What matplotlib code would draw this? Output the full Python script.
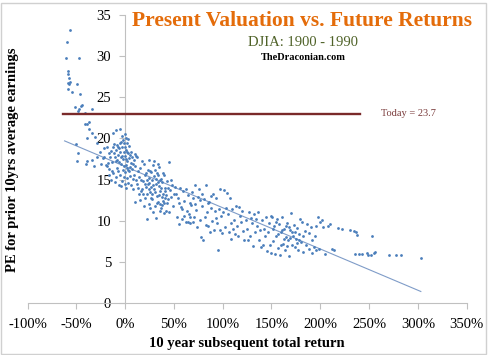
import numpy as np
import matplotlib
matplotlib.use("Agg")
import matplotlib.pyplot as plt
from matplotlib.patches import Rectangle

# (10yr return in %, PE), grouped by area of the cloud
pts_top = [(-56, 33.2), (-60, 31.7), (-61, 29.8), (-47, 29.8), (-59, 28.2), (-58, 27.8),
           (-57, 27.4), (-56, 26.9), (-57, 26.6), (-59, 26.7), (-49, 26.6), (-58, 26.0),
           (-54, 25.7), (-46, 25.4), (-51, 23.8), (-47, 23.6), (-45, 23.9), (-44, 24.1),
           (-34, 23.6), (-48, 23.3), (-41, 23.1)]
pts_left = [(-39, 21.8), (-37, 22.0), (-41, 21.8), (-37, 21.2), (-34, 20.7), (-39, 20.0),
            (-31, 20.2), (-9, 21.0), (-5, 21.1), (-12, 20.6), (-50, 19.3), (-29, 19.4),
            (-48, 18.2), (-49, 17.3), (-39, 17.3), (-34, 17.4), (-40, 16.9), (-26, 18.4),
            (-22, 18.8), (-19, 19.0), (-29, 17.8), (-22, 17.8), (-32, 16.6), (-19, 16.6)]
pts_zero = [(-14, 18.5), (-12, 18.9), (-11, 18.2), (-10, 17.8), (-9, 18.6), (-8, 19.2),
            (-8, 17.4), (-7, 18.0), (-6, 18.8), (-6, 17.1), (-5, 19.5), (-5, 18.3),
            (-4, 17.7), (-4, 16.9), (-3, 18.9), (-3, 20.3), (-2, 19.8), (-2, 17.5),
            (-1, 18.4), (-1, 16.6), (0, 19.0), (0, 17.9), (1, 18.6), (1, 20.0), (1, 16.8),
            (2, 19.4), (2, 17.3), (3, 18.2), (3, 16.2), (4, 17.6), (4, 19.1), (5, 18.0),
            (5, 16.5), (-13, 17.1), (-15, 17.8), (-17, 18.2), (-18, 17.0), (-16, 16.3),
            (-20, 16.8), (-23, 17.6), (-25, 16.9),
            (-16, 15.5), (-14, 15.0), (-12, 15.8), (-10, 14.7), (-9, 15.3), (-7, 16.0),
            (-6, 14.4), (-5, 15.6), (-3, 14.8), (-2, 16.2), (0, 14.5), (0, 15.9), (2, 15.2),
            (3, 14.6), (4, 16.0), (5, 15.4), (6, 17.0), (7, 16.3), (8, 15.1), (9, 17.4),
            (10, 16.6), (11, 14.9), (12, 17.8), (13, 16.0), (14, 15.3)]
pts_zero_extra = [(-11, 19.3), (-9, 17.2), (-7, 18.9), (-4, 19.6), (-3, 17.9), (-1, 19.4),
                  (0, 20.5), (1, 17.5), (2, 18.4), (3, 19.9), (6, 18.3), (7, 17.7),
                  (-8, 16.4), (-1, 15.3), (2, 16.4), (8, 16.9), (10, 18.1), (-13, 16.0),
                  (-4, 14.2), (1, 14.0)]
pts_mid = [(8, 13.8), (10, 12.3), (12, 14.5), (14, 13.2), (15, 16.4), (16, 15.0), (17, 13.9),
           (18, 14.8), (19, 16.9), (20, 12.8), (20, 15.5), (21, 14.1), (22, 13.3), (23, 16.2),
           (24, 15.2), (25, 12.0), (25, 14.6), (26, 13.5), (27, 15.9), (28, 14.9), (28, 12.6),
           (29, 16.8), (30, 13.9), (30, 15.4), (31, 11.8), (32, 14.5), (33, 13.0), (33, 15.8),
           (34, 12.3), (35, 14.2), (35, 16.5), (36, 13.6), (37, 11.5), (37, 15.1), (38, 12.9),
           (38, 14.7), (39, 13.3), (40, 12.1), (40, 15.5), (41, 14.0), (42, 11.2), (42, 13.1),
           (43, 14.8), (44, 12.6), (45, 17.1), (46, 13.7), (47, 12.9), (48, 14.4), (49, 11.8),
           (50, 13.2), (22, 10.2), (32, 10.3), (40, 10.9), (45, 11.0), (36, 12.0), (29, 11.0),
           (26, 11.5), (19, 11.8), (15, 12.5), (30, 17.2), (34, 16.9), (24, 17.4), (11, 17.9),
           (17, 17.3), (21, 15.8), (27, 14.1), (31, 13.5), (36, 14.9), (39, 15.8), (44, 14.0),
           (18, 13.2), (13, 14.0), (23, 14.5), (28, 13.2), (33, 12.1), (38, 11.9), (41, 13.6),
           (43, 12.2), (47, 14.9), (34, 15.6), (26, 16.1), (20, 14.5), (16, 13.6), (9, 15.6),
           (6, 14.3)]
pts_mid_extra = [(24, 13.8), (29, 14.4), (32, 15.1), (35, 13.1), (37, 14.0), (39, 12.4),
                 (31, 16.2), (27, 12.8), (22, 14.9), (36, 11.2), (41, 12.8), (34, 14.7)]
pts_50_100 = [(51, 14.1), (52, 13.2), (53, 10.5), (54, 12.8), (55, 9.6), (56, 14.0), (57, 11.7),
              (58, 10.2), (59, 13.6), (60, 12.4), (60, 10.6), (62, 9.8), (63, 11.2), (64, 13.1),
              (65, 10.8), (66, 12.2), (67, 9.7), (68, 11.9), (69, 13.5), (70, 12.8), (71, 10.4),
              (72, 14.3), (73, 11.3), (74, 9.2), (75, 12.9), (76, 13.8), (77, 10.1), (78, 8.0),
              (79, 11.8), (80, 7.7), (81, 12.6), (82, 10.5), (83, 14.4), (84, 11.1), (85, 9.3),
              (86, 12.3), (87, 8.6), (88, 11.6), (89, 10.0), (90, 13.3), (91, 8.9), (92, 11.2),
              (93, 12.7), (94, 9.7), (95, 6.4), (96, 11.4), (97, 13.9), (98, 10.6), (99, 8.5),
              (100, 11.0), (55, 12.2), (62, 13.9), (58, 11.4), (66, 10.4), (72, 12.0), (77, 12.5),
              (83, 9.5), (88, 13.0), (93, 10.3), (70, 9.9), (64, 9.8), (79, 13.2), (85, 12.1),
              (97, 8.9)]
pts_100_150 = [(101, 13.7), (102, 9.2), (104, 13.4), (105, 10.8), (106, 8.6), (107, 12.8),
               (108, 9.7), (109, 7.8), (110, 11.4), (111, 9.0), (112, 10.1), (113, 8.4),
               (114, 11.8), (115, 9.4), (116, 8.2), (118, 10.6), (120, 11.2), (121, 8.8),
               (122, 7.6), (124, 10.1), (125, 9.0), (127, 11.1), (128, 8.2), (130, 9.7),
               (131, 6.9), (132, 10.8), (133, 8.6), (135, 9.3), (136, 11.0), (137, 7.6),
               (138, 8.9), (140, 10.1), (141, 7.1), (142, 9.0), (143, 8.1), (144, 10.5),
               (145, 6.3), (146, 8.6), (147, 9.7), (148, 7.0), (149, 10.6), (150, 6.1),
               (103, 11.5), (117, 11.7), (126, 7.7), (134, 10.2), (139, 6.8), (119, 9.8),
               (129, 10.3)]
pts_150_200 = [(151, 10.5), (152, 7.5), (153, 9.3), (154, 6.0), (155, 8.1), (156, 10.2),
               (157, 6.7), (158, 9.6), (159, 5.8), (160, 8.6), (161, 10.4), (162, 7.2),
               (163, 9.0), (164, 6.4), (165, 8.0), (166, 9.7), (167, 7.6), (168, 5.7),
               (169, 8.9), (170, 10.9), (171, 7.0), (172, 8.2), (173, 9.5), (174, 6.8),
               (175, 7.8), (176, 9.1), (177, 6.5), (178, 8.4), (179, 10.2), (180, 7.4),
               (181, 9.9), (182, 6.2), (184, 8.8), (185, 7.1), (186, 9.6), (188, 6.6),
               (190, 9.2), (191, 7.6), (192, 6.1), (194, 6.8), (195, 8.2), (196, 6.4),
               (198, 10.4), (199, 6.6), (200, 9.8), (202, 10.1), (203, 9.2), (205, 6.0),
               (157, 8.4), (163, 7.8), (168, 9.2), (174, 8.6), (182, 8.1), (188, 8.5),
               (196, 9.3), (166, 6.9), (176, 7.3), (152, 9.0), (160, 7.0),
               (155, 9.9), (161, 8.9), (165, 9.4), (169, 7.9), (171, 8.6), (178, 7.7)]
pts_right = [(208, 9.3), (210, 9.6), (212, 6.6), (214, 6.4), (218, 9.1), (222, 9.0),
             (230, 8.9), (235, 8.8), (237, 8.6), (238, 8.3), (236, 5.9), (240, 5.9),
             (243, 6.0), (248, 6.1), (249, 5.8), (252, 5.8), (253, 8.1), (255, 6.1),
             (256, 6.2), (270, 5.8), (278, 5.8), (283, 5.8), (303, 5.5)]

# linear trend line end points and today's PE line
trend_x = [-0.62, 3.03]
trend_y = [19.7, 1.4]
today_pe = 23.0
today_x = [-0.64, 2.41]

x_ticks = [-1.0, -0.5, 0.0, 0.5, 1.0, 1.5, 2.0, 2.5, 3.0, 3.5]
y_ticks = [0, 5, 10, 15, 20, 25, 30, 35]

all_pts = (pts_top + pts_left + pts_zero + pts_zero_extra + pts_mid + pts_mid_extra
           + pts_50_100 + pts_100_150 + pts_150_200 + pts_right)
ret = np.array([p[0] for p in all_pts]) / 100.0
pe = np.array([p[1] for p in all_pts])

serif = ['Liberation Serif', 'DejaVu Serif']
plt.rcParams['font.family'] = serif

W, H = 489, 355
fig = plt.figure(figsize=(W / 100, H / 100), dpi=100)
ax = fig.add_axes([27.5 / W, 1 - 303 / H, (466.7 - 27.5) / W, (303 - 15) / H])

ax.scatter(ret, pe, s=4, color='#4a7ebb', marker='o', linewidths=0, zorder=3)
ax.plot(trend_x, trend_y, color='#7f9cc8', lw=0.8, zorder=2)
ax.plot(today_x, [today_pe, today_pe], color='#7a2a2a', lw=1.7, zorder=4)
ax.text(2.62, today_pe, 'Today = 23.7', color='#7a3b3b', fontsize=7.5, va='center', ha='left')

ax.set_xlim(-1.0, 3.5)
ax.set_ylim(0, 35)
ax.set_xticks(x_ticks)
ax.set_xticklabels([f'{int(round(t * 100))}%' for t in x_ticks])
ax.set_yticks(y_ticks)

for s in ['top', 'right']:
    ax.spines[s].set_visible(False)
ax.spines['left'].set_position(('data', 0))
ax.spines['left'].set_color('#c0c0c0')
ax.spines['bottom'].set_color('#c0c0c0')
ax.tick_params(axis='both', direction='out', length=4, color='#c0c0c0', labelsize=10.5)
ax.tick_params(axis='x', pad=7)
ax.tick_params(axis='y', pad=6)

fig.text(13 / W, 1 - 160 / H, 'PE for prior 10yrs average earnings', rotation=90,
         ha='center', va='center', fontsize=10.5, fontweight='bold')
fig.text(247 / W, 1 - 344 / H, '10 year subsequent total return',
         ha='center', va='center', fontsize=10.5, fontweight='bold')

fig.text(302 / W, 1 - 21 / H, 'Present Valuation vs. Future Returns', color='#e46c0a',
         ha='center', va='center', fontsize=15.5, fontweight='bold')
fig.text(303 / W, 1 - 42 / H, 'DJIA: 1900 - 1990', color='#4f6228',
         ha='center', va='center', fontsize=10.5)
fig.text(303 / W, 1 - 58 / H, 'TheDraconian.com', color='black',
         ha='center', va='center', fontsize=7.5, fontweight='bold')

fig.patches.append(Rectangle((1.5 / W, 1.5 / H), (W - 4) / W, (H - 4) / H,
                             transform=fig.transFigure, fill=False,
                             edgecolor='#d0d0d0', lw=1))

fig.savefig('out.png', dpi=100)
